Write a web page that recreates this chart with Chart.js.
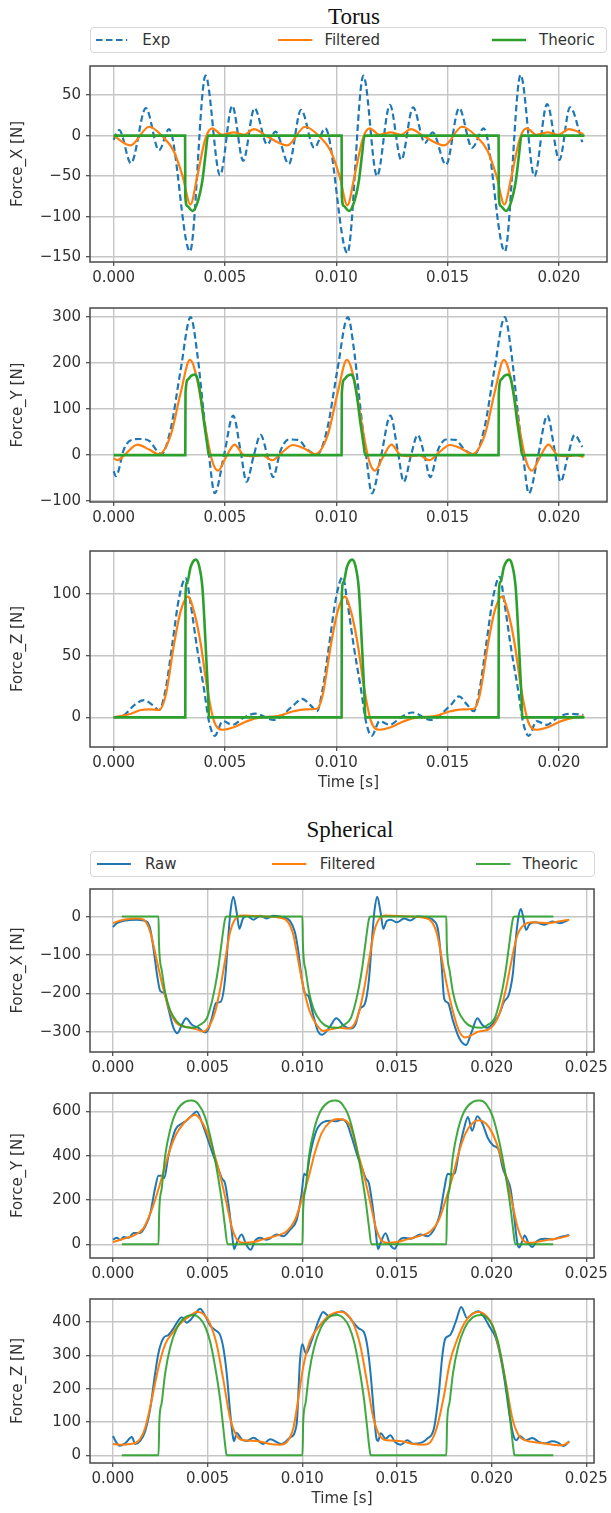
<!DOCTYPE html>
<html>
<head>
<meta charset="utf-8">
<script src="https://cdn.jsdelivr.net/npm/chart.js@4.4.1/dist/chart.umd.min.js"></script>
<style>
  body { margin:0; background:#fff; width:611px; height:1513px; position:relative; overflow:hidden; font-family:"DejaVu Sans", sans-serif; }
  canvas { position:absolute; left:0; }
  .title { position:absolute; font-family:"Liberation Serif", serif; font-size:23px; line-height:23px; color:#111; transform:translateX(-50%); white-space:nowrap; }
  .legend { position:absolute; border:1px solid #d6d6d6; border-radius:4px; background:#fff; box-sizing:border-box; z-index:2; }
  .ltext { position:absolute; font-size:15px; line-height:18px; color:#333; white-space:nowrap; z-index:3; }
  svg.lsample { position:absolute; z-index:3; overflow:visible; }
</style>
</head>
<body>
<script>
// ---- data (time in ms, force in N) ----
const torusX_exp = [[0,-5],[0.25,7],[0.78,-34],[1.45,34],[2.04,-18],[2.49,8],[3.43,-143],[4.13,74],[4.78,-49],[5.33,37],[5.82,-31],[6.33,34],[6.9,-11],[7.27,5],[7.87,-35],[8.42,32],[9.01,-15],[9.51,9],[10.5,-145],[11.22,74],[11.83,-50],[12.41,38],[12.92,-30],[13.45,35],[13.98,-9],[14.33,4],[14.93,-36],[15.52,34],[16.1,-15],[16.62,9],[17.57,-143],[18.28,75],[18.9,-50],[19.47,39],[20.02,-30],[20.5,35],[21.05,-8]];
const torusX_filt = [[0,0],[0.75,-12],[1.6,11],[2.2,-1],[2.7,-19],[3.1,-50],[3.45,-85],[3.76,-50],[4.13,-3],[4.43,9],[4.88,1],[5.4,4],[5.85,1],[6.3,8],[6.9,-1],[7.8,-12],[8.6,11],[9.25,-1],[9.75,-19],[10.15,-50],[10.5,-86],[10.82,-50],[11.2,-3],[11.5,9],[11.95,1],[12.45,4],[12.9,1],[13.35,8],[13.95,-1],[14.85,-12],[15.65,11],[16.3,-1],[16.8,-19],[17.2,-50],[17.55,-85],[17.87,-50],[18.25,-3],[18.55,9],[19.0,1],[19.5,4],[19.95,1],[20.45,8],[21.1,2]];
const torusX_theo = [[0,0],[3.21,0],[3.22,-75],[3.31,-87],[3.54,-93],[3.76,-83],[3.99,-55],[4.13,-23],[4.24,0],[10.24,0],[10.25,-75],[10.34,-87],[10.57,-93],[10.79,-83],[11.02,-55],[11.16,-23],[11.27,0],[17.29,0],[17.3,-75],[17.39,-87],[17.62,-93],[17.84,-83],[18.07,-55],[18.21,-23],[18.32,0],[21.15,0]];

const torusY_exp = [[0,-35],[0.1,-46],[0.48,15],[0.8,33],[1.2,35],[1.6,31],[1.97,8],[2.15,2],[2.57,58],[3.01,185],[3.46,300],[3.76,220],[4.06,86],[4.28,0],[4.54,-83],[4.96,0],[5.37,86],[5.7,10],[5.97,-58],[6.3,0],[6.6,44],[6.9,0],[7.16,-48],[7.5,10],[7.87,34],[8.3,33],[8.7,12],[9.15,2],[9.6,58],[10.05,185],[10.52,300],[10.82,220],[11.12,86],[11.34,0],[11.6,-83],[12.02,0],[12.43,86],[12.76,10],[13.03,-58],[13.36,0],[13.66,44],[13.96,0],[14.22,-48],[14.56,10],[14.93,34],[15.36,33],[15.76,12],[16.2,2],[16.65,58],[17.1,185],[17.57,300],[17.87,220],[18.17,86],[18.39,0],[18.65,-83],[19.07,0],[19.48,86],[19.81,10],[20.08,-58],[20.41,0],[20.71,44],[21.05,18]];
const torusY_filt = [[0,-7],[0.18,-11],[0.48,0],[1.07,23],[1.6,12],[2.04,2],[2.57,44],[3.01,135],[3.43,207],[3.76,163],[4.13,58],[4.43,-13],[4.69,-34],[5.03,-6],[5.43,23],[5.85,0],[6.3,-2],[6.67,0],[7.12,-11],[7.57,6],[8.05,22],[8.54,15],[9.05,2],[9.62,44],[10.06,135],[10.48,207],[10.81,163],[11.18,58],[11.48,-13],[11.74,-34],[12.08,-6],[12.48,23],[12.9,0],[13.35,-2],[13.72,0],[14.17,-11],[14.62,6],[15.1,22],[15.59,15],[16.1,2],[16.67,44],[17.11,135],[17.53,207],[17.86,163],[18.23,58],[18.53,-13],[18.79,-34],[19.13,-6],[19.53,23],[19.95,0],[20.4,-2],[20.77,0],[21.1,-4]];
const torusY_theo = [[0,0],[3.22,0],[3.23,135],[3.35,165],[3.47,172],[3.64,175],[3.76,167],[3.91,128],[4.06,72],[4.21,22],[4.28,0],[10.24,0],[10.25,135],[10.37,165],[10.49,172],[10.66,175],[10.78,167],[10.93,128],[11.08,72],[11.23,22],[11.3,0],[17.29,0],[17.3,135],[17.42,165],[17.54,172],[17.71,175],[17.83,167],[17.98,128],[18.13,72],[18.28,22],[18.35,0],[21.15,0]];

const torusZ_exp = [[0,0],[0.48,2],[0.93,10],[1.37,14],[1.75,10],[2.04,6],[2.34,23],[2.64,60],[2.94,97],[3.24,113],[3.46,92],[3.76,55],[4.06,23],[4.28,-3],[4.54,-15],[4.9,-3],[5.35,-6],[5.85,0],[6.37,3],[7.19,-2],[8.09,10],[8.46,15],[8.84,10],[9.13,5],[9.39,23],[9.69,60],[9.99,97],[10.29,114],[10.51,92],[10.81,55],[11.11,23],[11.33,-3],[11.59,-15],[11.95,-3],[12.4,-6],[12.9,0],[13.42,4],[14.24,-2],[15.14,10],[15.51,17],[15.89,10],[16.18,5],[16.44,23],[16.74,60],[17.04,97],[17.34,114],[17.56,92],[17.86,55],[18.16,23],[18.38,-3],[18.64,-15],[19.0,-3],[19.45,-6],[19.95,0],[20.47,3],[21.1,2]];
const torusZ_filt = [[0,0],[0.78,3],[1.22,6],[1.6,6.5],[2.04,6],[2.34,18],[2.72,60],[3.01,86],[3.34,98],[3.61,86],[3.91,60],[4.21,23],[4.51,-3],[4.88,-10],[5.4,-8],[6.0,-3],[6.6,0],[7.34,1],[8.09,5],[8.6,6.5],[9.13,7],[9.39,18],[9.77,60],[10.06,86],[10.39,98],[10.66,86],[10.96,60],[11.26,23],[11.56,-3],[11.93,-10],[12.45,-8],[13.05,-3],[13.65,0],[14.39,1],[15.14,5],[15.65,6.5],[16.18,7],[16.44,18],[16.82,60],[17.11,86],[17.44,98],[17.71,86],[18.01,60],[18.31,23],[18.61,-3],[18.98,-10],[19.5,-8],[20.1,-3],[20.7,0],[21.1,1]];
const torusZ_theo = [[0,0],[3.22,0],[3.23,99],[3.31,110],[3.46,122],[3.69,128],[3.84,123],[3.99,105],[4.13,60],[4.24,20],[4.29,0],[10.24,0],[10.25,99],[10.33,110],[10.48,122],[10.71,128],[10.86,123],[11.01,105],[11.15,60],[11.26,20],[11.31,0],[17.29,0],[17.3,99],[17.38,110],[17.53,122],[17.76,128],[17.91,123],[18.06,105],[18.2,60],[18.31,20],[18.36,0],[21.15,0]];

const sphX_raw = [[0,-27],[0.21,-17],[0.56,-11],[1.27,-8],[1.79,-13],[1.97,-32],[2.14,-82],[2.32,-148],[2.5,-194],[2.71,-200],[2.93,-240],[3.2,-290],[3.41,-304],[3.64,-282],[3.87,-265],[4.17,-282],[4.52,-290],[4.87,-302],[5.04,-294],[5.22,-265],[5.45,-225],[5.69,-222],[5.92,-165],[6.1,-48],[6.22,18],[6.36,52],[6.54,10],[6.68,-32],[6.85,-7],[7.07,2],[7.42,-8],[7.77,2],[8.12,-5],[8.47,2],[9.0,-2],[9.35,-11],[9.61,-40],[9.79,-90],[9.96,-157],[10.14,-200],[10.32,-207],[10.58,-257],[10.84,-300],[11.05,-308],[11.45,-288],[11.8,-265],[12.2,-285],[12.55,-292],[12.82,-280],[13.05,-240],[13.3,-228],[13.52,-165],[13.7,-48],[13.82,18],[13.96,52],[14.14,10],[14.28,-32],[14.45,-12],[14.67,-8],[15.0,-15],[15.37,-5],[15.72,-10],[16.07,0],[16.6,-3],[16.95,-11],[17.17,-35],[17.35,-120],[17.5,-215],[17.7,-225],[17.95,-270],[18.3,-318],[18.65,-335],[18.95,-300],[19.25,-265],[19.5,-282],[19.76,-290],[20.05,-280],[20.4,-255],[20.65,-222],[20.9,-205],[21.12,-150],[21.3,-48],[21.42,0],[21.55,20],[21.7,-10],[21.82,-35],[22.0,-20],[22.3,-15],[22.8,-21],[23.2,-13],[23.6,-17],[24.05,-9]];
const sphX_filt = [[0,-17],[0.56,-8],[1.27,-5],[1.62,-8],[1.97,-40],[2.32,-115],[2.67,-190],[3.02,-248],[3.37,-278],[3.9,-288],[4.43,-294],[4.78,-300],[5.13,-282],[5.4,-248],[5.66,-190],[5.92,-115],[6.19,-40],[6.45,-7],[6.8,3],[8.12,0],[8.82,-3],[9.26,-15],[9.53,-48],[9.79,-115],[10.05,-182],[10.4,-248],[10.76,-282],[11.1,-298],[11.5,-294],[12.0,-290],[12.4,-292],[12.73,-282],[13.0,-248],[13.26,-190],[13.52,-115],[13.79,-40],[14.05,-7],[14.4,3],[15.72,0],[16.42,-3],[16.86,-15],[17.13,-48],[17.39,-115],[17.65,-182],[18.0,-255],[18.3,-300],[18.6,-315],[18.9,-310],[19.3,-300],[19.8,-295],[20.15,-280],[20.45,-248],[20.75,-190],[21.05,-115],[21.35,-50],[21.7,-22],[22.2,-15],[23.0,-17],[23.6,-12],[24.1,-8]];
const sphX_theo = [[0.47,0],[2.41,0],[2.43,-65],[2.58,-140],[2.76,-198],[3.02,-244],[3.37,-273],[3.81,-288],[4.25,-290],[4.6,-282],[4.96,-265],[5.22,-223],[5.4,-182],[5.57,-132],[5.75,-65],[5.92,-7],[6.01,0],[10.01,0],[10.03,-65],[10.18,-140],[10.36,-198],[10.62,-244],[10.97,-273],[11.41,-288],[11.85,-290],[12.2,-282],[12.56,-265],[12.82,-223],[13.0,-182],[13.17,-132],[13.35,-65],[13.52,-7],[13.61,0],[17.61,0],[17.63,-65],[17.78,-140],[17.96,-198],[18.22,-244],[18.57,-273],[19.01,-288],[19.45,-290],[19.8,-282],[20.16,-265],[20.42,-223],[20.6,-182],[20.77,-132],[20.95,-65],[21.12,-7],[21.21,0],[23.26,0]];

const sphY_raw = [[0,22],[0.21,29],[0.39,19],[0.56,33],[0.83,29],[1.09,51],[1.44,51],[1.7,80],[1.97,138],[2.23,254],[2.41,309],[2.58,309],[2.71,298],[2.93,400],[3.29,516],[3.64,545],[3.9,559],[4.17,581],[4.43,600],[4.69,552],[4.96,487],[5.31,400],[5.57,341],[5.75,298],[5.92,276],[6.1,182],[6.27,65],[6.4,-22],[6.54,7],[6.8,44],[7.03,0],[7.28,-25],[7.5,15],[7.77,29],[8.12,20],[8.65,44],[9.0,36],[9.35,65],[9.7,109],[9.96,225],[10.1,318],[10.22,312],[10.4,400],[10.76,516],[11.11,552],[11.5,558],[11.8,556],[12.1,563],[12.35,548],[12.6,487],[12.91,400],[13.17,341],[13.35,298],[13.52,276],[13.7,182],[13.87,65],[14.0,-22],[14.14,7],[14.4,50],[14.63,0],[14.88,-20],[15.1,15],[15.37,29],[15.72,25],[16.25,44],[16.6,36],[16.95,65],[17.25,130],[17.5,250],[17.68,318],[17.88,315],[18.05,320],[18.3,430],[18.55,525],[18.75,575],[18.97,512],[19.24,578],[19.5,548],[19.8,480],[20.1,445],[20.35,430],[20.6,340],[20.85,290],[21.0,250],[21.2,120],[21.35,10],[21.45,-15],[21.6,10],[21.75,40],[21.95,5],[22.15,-12],[22.4,15],[22.8,25],[23.2,22],[23.6,32],[24.1,42]];
const sphY_filt = [[0,10],[0.56,25],[1.09,39],[1.62,73],[1.97,138],[2.32,225],[2.67,327],[3.02,428],[3.37,501],[3.73,545],[4.08,574],[4.34,585],[4.6,566],[4.96,508],[5.31,421],[5.66,312],[6.01,182],[6.27,80],[6.54,22],[6.89,7],[7.42,10],[7.94,22],[8.65,39],[9.17,58],[9.61,109],[9.96,196],[10.32,298],[10.67,414],[11.02,501],[11.46,552],[11.9,566],[12.3,558],[12.6,520],[12.91,421],[13.26,312],[13.61,182],[13.87,80],[14.14,22],[14.49,7],[15.02,10],[15.54,22],[16.25,39],[16.77,58],[17.21,109],[17.56,196],[17.92,298],[18.27,414],[18.62,501],[19.0,548],[19.35,560],[19.7,545],[20.05,500],[20.4,421],[20.75,312],[21.1,182],[21.36,80],[21.63,22],[21.98,7],[22.5,12],[23.0,20],[23.6,28],[24.1,40]];
const sphY_theo = [[0.47,0],[2.41,0],[2.44,138],[2.58,254],[2.76,400],[3.02,516],[3.37,603],[3.81,643],[4.17,649],[4.52,632],[4.87,574],[5.22,457],[5.48,341],[5.75,196],[5.92,80],[6.05,0],[10.01,0],[10.04,138],[10.18,254],[10.36,400],[10.62,516],[10.97,603],[11.41,643],[11.77,649],[12.12,632],[12.47,574],[12.82,457],[13.08,341],[13.35,196],[13.52,80],[13.65,0],[17.61,0],[17.64,138],[17.78,254],[17.96,400],[18.22,516],[18.57,603],[19.01,643],[19.37,649],[19.72,632],[20.07,574],[20.42,457],[20.68,341],[20.95,196],[21.12,80],[21.25,0],[23.26,0]];

const sphZ_raw = [[0,58],[0.18,39],[0.35,29],[0.65,36],[1.0,55],[1.18,34],[1.44,43],[1.7,72],[1.97,140],[2.23,246],[2.41,308],[2.67,352],[2.93,361],[3.2,381],[3.46,405],[3.64,414],[3.9,398],[4.08,405],[4.34,424],[4.6,440],[4.87,419],[5.13,390],[5.4,376],[5.66,361],[5.83,323],[6.01,246],[6.19,130],[6.33,58],[6.4,43],[6.54,67],[6.8,48],[7.07,43],[7.42,53],[7.94,34],[8.3,48],[8.91,34],[9.35,53],[9.7,92],[9.88,284],[10.0,333],[10.2,305],[10.5,345],[10.9,410],[11.1,430],[11.4,418],[11.7,425],[12.1,432],[12.4,420],[12.75,395],[13.0,380],[13.25,370],[13.43,330],[13.6,250],[13.78,130],[13.92,50],[14.0,43],[14.15,66],[14.4,50],[14.65,60],[14.9,40],[15.2,32],[15.55,45],[15.85,35],[16.3,38],[16.6,50],[16.95,80],[17.2,180],[17.4,300],[17.55,350],[17.8,360],[18.1,400],[18.4,445],[18.7,412],[19.0,425],[19.3,432],[19.6,415],[19.9,385],[20.2,355],[20.45,300],[20.7,220],[20.95,120],[21.15,60],[21.3,45],[21.5,58],[21.8,45],[22.15,52],[22.5,40],[22.8,36],[23.2,42],[23.5,38],[23.8,28],[24.1,42]];
const sphZ_filt = [[0,34],[0.39,32],[0.91,34],[1.35,43],[1.7,82],[2.06,169],[2.41,265],[2.76,333],[3.2,371],[3.64,400],[4.08,419],[4.43,431],[4.78,424],[5.13,395],[5.48,333],[5.83,227],[6.19,111],[6.54,58],[6.89,45],[7.59,43],[8.3,34],[8.82,32],[9.17,39],[9.53,82],[9.79,169],[10.05,265],[10.4,342],[10.93,390],[11.46,421],[11.99,431],[12.35,424],[12.7,395],[13.05,333],[13.4,227],[13.76,111],[14.1,58],[14.45,45],[15.15,43],[15.85,34],[16.4,32],[16.75,39],[17.1,82],[17.45,169],[17.8,280],[18.2,350],[18.6,400],[19.0,425],[19.35,430],[19.7,420],[20.05,390],[20.4,320],[20.75,220],[21.1,110],[21.45,58],[21.8,45],[22.5,38],[23.2,32],[23.7,30],[24.1,40]];
const sphZ_theo = [[0.47,0],[2.41,0],[2.45,100],[2.58,159],[2.76,246],[3.02,323],[3.37,381],[3.81,414],[4.25,421],[4.6,410],[4.87,386],[5.13,342],[5.4,265],[5.66,169],[5.83,82],[5.95,20],[6.01,0],[10.01,0],[10.05,100],[10.18,159],[10.36,246],[10.62,323],[10.97,381],[11.41,414],[11.85,421],[12.2,410],[12.47,386],[12.73,342],[13.0,265],[13.26,169],[13.43,82],[13.55,20],[13.61,0],[17.61,0],[17.65,100],[17.78,159],[17.96,246],[18.22,323],[18.57,381],[19.01,414],[19.45,421],[19.8,410],[20.07,386],[20.33,342],[20.6,265],[20.86,169],[21.03,82],[21.15,20],[21.21,0],[23.26,0]];

// tick values and labels
const torusTimeTicks = [0, 5, 10, 15, 20];
const torusTimeLabels = ['0.000', '0.005', '0.010', '0.015', '0.020'];
const sphTimeTicks = [0, 5, 10, 15, 20, 25];
const sphTimeLabels = ['0.000', '0.005', '0.010', '0.015', '0.020', '0.025'];
const torusXTicks = [-150, -100, -50, 0, 50];
const torusXLabels = ['\u2212150', '\u2212100', '\u221250', '0', '50'];
const torusYTicks = [-100, 0, 100, 200, 300];
const torusYLabels = ['\u2212100', '0', '100', '200', '300'];
const torusZTicks = [0, 50, 100];
const torusZLabels = ['0', '50', '100'];
const sphXTicks = [-300, -200, -100, 0];
const sphXLabels = ['\u2212300', '\u2212200', '\u2212100', '0'];
const sphYTicks = [0, 200, 400, 600];
const sphYLabels = ['0', '200', '400', '600'];
const sphZTicks = [0, 100, 200, 300, 400];
const sphZLabels = ['0', '100', '200', '300', '400'];

// ---- styling ----
const BLUE = '#1f77b4', ORANGE = '#ff7f0e', GREEN = '#2ca02c';
const TXT = '#333';
const GRID = '#c6c6c6';
Chart.defaults.font.family = '"DejaVu Sans", sans-serif';
Chart.defaults.font.size = 15;
Chart.defaults.color = TXT;

const torusStyle = {
  exp:  { label: 'Exp', color: BLUE, width: 2.2, dash: [6.5, 3.5], order: 3 },
  filt: { label: 'Filtered', color: ORANGE, width: 2.2, order: 2 },
  theo: { label: 'Theoric', color: GREEN, width: 2.6, order: 1 }
};
const sphStyle = {
  exp:  { label: 'Raw', color: BLUE, width: 2, order: 3 },
  filt: { label: 'Filtered', color: ORANGE, width: 2, order: 2 },
  theo: { label: 'Theoric', color: 'rgba(44,160,44,0.9)', width: 2, order: 1 }
};

// matplotlib style box around the axes
const frameBox = {
  id: 'frameBox',
  afterDatasetsDraw(chart) {
    const { ctx, chartArea: a } = chart;
    ctx.save();
    ctx.strokeStyle = '#4a4a4a';
    ctx.lineWidth = 1.5;
    ctx.strokeRect(a.left, a.top, a.right - a.left, a.bottom - a.top);
    ctx.restore();
  }
};

function makePanel(p) {
  const cv = document.createElement('canvas');
  cv.width = 611; cv.height = p.canvasH;
  cv.style.top = p.canvasTop + 'px';
  document.body.appendChild(cv);
  const st = p.style;
  const datasets = [['exp', p.exp], ['filt', p.filt], ['theo', p.theo]].map(([k, d]) => ({
    label: st[k].label,
    data: d.map(q => ({ x: q[0], y: q[1] })),
    borderColor: st[k].color,
    borderWidth: st[k].width,
    borderDash: st[k].dash || [],
    pointRadius: 0,
    fill: false,
    cubicInterpolationMode: 'monotone',
    order: st[k].order
  }));
  return new Chart(cv, {
    type: 'line',
    data: { datasets },
    options: {
      responsive: false, animation: false, devicePixelRatio: 1,
      layout: { padding: { top: 8, right: p.padRight, left: 0, bottom: 0 } },
      plugins: { legend: { display: false }, tooltip: { enabled: false } },
      scales: {
        x: {
          type: 'linear', min: p.xMin, max: p.xMax,
          afterBuildTicks: s => { s.ticks = p.xTicks.map(v => ({ value: v })); },
          afterFit: s => { s.height = p.xTitle ? 48 : 30; },
          ticks: { autoSkip: false, maxRotation: 0, padding: 3, color: TXT,
                   callback: v => p.xLabels[p.xTicks.indexOf(v)] },
          grid: { color: GRID, lineWidth: 1.4, tickLength: 4, tickColor: '#444', tickWidth: 1.2 },
          border: { display: false },
          title: { display: !!p.xTitle, text: p.xTitle || '', color: TXT, padding: { top: 0, bottom: 3 } }
        },
        y: {
          type: 'linear', min: p.yMin, max: p.yMax,
          afterBuildTicks: s => { s.ticks = p.yTicks.map(v => ({ value: v })); },
          afterFit: s => { s.width = 90; },
          ticks: { autoSkip: false, padding: 5, color: TXT,
                   callback: v => p.yLabels[p.yTicks.indexOf(v)] },
          grid: { color: GRID, lineWidth: 1.4, tickLength: 4, tickColor: '#444', tickWidth: 1.2 },
          border: { display: false },
          title: { display: true, text: p.yTitle, color: TXT, padding: { top: 9, bottom: 0 } }
        }
      }
    },
    plugins: [frameBox]
  });
}

function addTitle(text, cx, top) {
  const d = document.createElement('div');
  d.className = 'title'; d.textContent = text;
  d.style.left = cx + 'px'; d.style.top = top + 'px';
  document.body.appendChild(d);
}

function addLegend(box, style, items) {
  const b = document.createElement('div');
  b.className = 'legend';
  Object.assign(b.style, { left: box.left + 'px', top: box.top + 'px', width: box.width + 'px', height: box.height + 'px' });
  document.body.appendChild(b);
  ['exp', 'filt', 'theo'].forEach((k, i) => {
    const [x0, x1, tx] = items[i];
    const s = style[k];
    const svg = document.createElementNS('http://www.w3.org/2000/svg', 'svg');
    svg.setAttribute('class', 'lsample');
    svg.setAttribute('width', x1 - x0); svg.setAttribute('height', 6);
    svg.style.left = x0 + 'px'; svg.style.top = (box.cy - 3) + 'px';
    const ln = document.createElementNS('http://www.w3.org/2000/svg', 'line');
    ln.setAttribute('x1', 0); ln.setAttribute('x2', x1 - x0);
    ln.setAttribute('y1', 3); ln.setAttribute('y2', 3);
    ln.setAttribute('stroke', s.color); ln.setAttribute('stroke-width', s.width);
    if (s.dash) ln.setAttribute('stroke-dasharray', s.dash.join(' '));
    svg.appendChild(ln);
    document.body.appendChild(svg);
    const t = document.createElement('div');
    t.className = 'ltext'; t.textContent = s.label;
    t.style.left = tx + 'px'; t.style.top = (box.cy - 9) + 'px';
    document.body.appendChild(t);
  });
}

// ---- Torus ----
addTitle('Torus', 354, 4.7);
addLegend({ left: 89.7, top: 26.7, width: 517.5, height: 26.6, cy: 40 }, torusStyle,
  [[95.5, 126.7, 142.3], [277.6, 312, 324.4], [492, 526, 539]]);

const torusBase = { style: torusStyle, padRight: 4, xMin: -1.06, xMax: 22.16, xTicks: torusTimeTicks, xLabels: torusTimeLabels };
makePanel(Object.assign({}, torusBase, { canvasTop: 52, canvasH: 240, yMin: -156, yMax: 86, yTicks: torusXTicks, yLabels: torusXLabels,
  yTitle: 'Force_X [N]', exp: torusX_exp, filt: torusX_filt, theo: torusX_theo }));
makePanel(Object.assign({}, torusBase, { canvasTop: 294, canvasH: 238, yMin: -102, yMax: 320, yTicks: torusYTicks, yLabels: torusYLabels,
  yTitle: 'Force_Y [N]', exp: torusY_exp, filt: torusY_filt, theo: torusY_theo }));
makePanel(Object.assign({}, torusBase, { canvasTop: 537, canvasH: 258, yMin: -24, yMax: 135, yTicks: torusZTicks, yLabels: torusZLabels,
  yTitle: 'Force_Z [N]', xTitle: 'Time [s]', exp: torusZ_exp, filt: torusZ_filt, theo: torusZ_theo }));

// ---- Spherical ----
addTitle('Spherical', 350, 817.7);
addLegend({ left: 89.7, top: 850.7, width: 505, height: 26, cy: 863.5 }, sphStyle,
  [[96.7, 130.6, 145], [271.7, 306, 319.7], [475.6, 510, 522.4]]);

const sphBase = { style: sphStyle, padRight: 16, xMin: -1.21, xMax: 25.41, xTicks: sphTimeTicks, xLabels: sphTimeLabels };
makePanel(Object.assign({}, sphBase, { canvasTop: 875, canvasH: 207, yMin: -353, yMax: 72, yTicks: sphXTicks, yLabels: sphXLabels,
  yTitle: 'Force_X [N]', exp: sphX_raw, filt: sphX_filt, theo: sphX_theo }));
makePanel(Object.assign({}, sphBase, { canvasTop: 1079, canvasH: 209, yMin: -62, yMax: 683, yTicks: sphYTicks, yLabels: sphYLabels,
  yTitle: 'Force_Y [N]', exp: sphY_raw, filt: sphY_filt, theo: sphY_theo }));
makePanel(Object.assign({}, sphBase, { canvasTop: 1285, canvasH: 226, yMin: -23, yMax: 469, yTicks: sphZTicks, yLabels: sphZLabels,
  yTitle: 'Force_Z [N]', xTitle: 'Time [s]', exp: sphZ_raw, filt: sphZ_filt, theo: sphZ_theo }));
</script>
</body>
</html>
